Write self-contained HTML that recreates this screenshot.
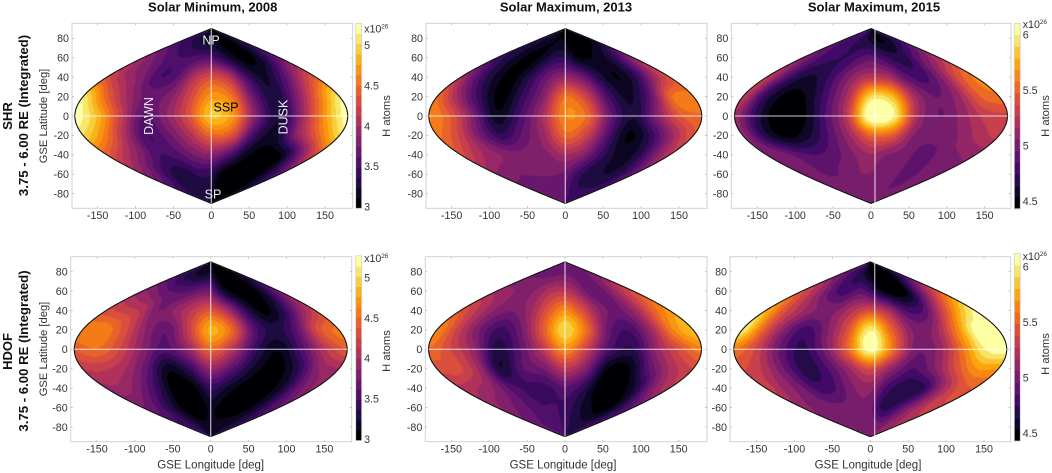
<!DOCTYPE html>
<html lang="en">
<head>
<meta charset="utf-8">
<title>Integrated H atoms maps</title>
<style>
html,body{margin:0;padding:0;background:#fff;width:1052px;height:473px;overflow:hidden}
svg{display:block}
text{font-family:"Liberation Sans",sans-serif;fill:#333}
</style>
</head>
<body>
<svg id="figure" xmlns="http://www.w3.org/2000/svg" width="1052" height="473" viewBox="0 0 1052 473"></svg>
<script>
const lonTicks = [-150, -100, -50, 0, 50, 100, 150];
const latTicks = [80, 60, 40, 20, 0, -20, -40, -60, -80];
const gridLons = [-180, -150, -120, -90, -60, -30, 0, 30, 60, 90, 120, 150, 180];
const gridLats = [80, 60, 40, 20, 0, -20, -40, -60, -80];
const colorTicksLow = [3, 3.5, 4, 4.5, 5];
const colorTicksHigh = [4.5, 5, 5.5, 6];
const colorTickTextLow = ['3', '3.5', '4', '4.5', '5'];
const colorTickTextHigh = ['4.5', '5', '5.5', '6'];

const valuesShr2008 = [
  [3.45,3.4,3.35,3.3,3.2,3.15,3.15,3.1,3.05,3.05,3.1,3.2,3.35],
  [3.9,3.75,3.6,3.5,3.5,3.55,3.55,3.35,3.15,3.05,3.15,3.45,3.7],
  [4.3,4.0,3.8,3.5,3.6,4.05,4.3,4.1,3.5,3.2,3.5,4.0,4.4],
  [5.1,4.5,4.0,3.7,3.8,4.25,4.7,4.5,3.65,3.25,3.8,4.5,5.1],
  [5.25,4.85,4.2,3.6,3.85,4.3,4.9,4.65,3.75,3.25,3.95,4.7,5.25],
  [5.0,4.6,4.0,3.5,3.7,4.05,4.45,4.3,3.45,3.2,3.85,4.45,5.0],
  [4.4,4.1,3.8,3.5,3.55,3.75,3.85,3.55,3.15,3.02,3.1,3.7,4.3],
  [3.85,3.7,3.45,3.3,3.3,3.4,3.35,3.05,3.0,3.0,3.05,3.3,3.6],
  [3.4,3.35,3.3,3.3,3.3,3.25,3.2,3.05,3.0,3.0,3.05,3.1,3.2]
];
const valuesShr2013 = [
  [3.3,3.25,3.2,3.15,3.1,3.1,3.08,3.02,3.0,3.0,3.02,3.05,3.15],
  [3.45,3.3,3.15,3.05,3.15,3.35,3.35,3.12,3.1,3.15,3.3,3.6,3.9],
  [4.0,3.55,3.2,3.05,3.35,3.7,3.9,3.7,3.3,3.1,3.35,3.9,4.35],
  [4.5,3.95,3.4,3.05,3.4,3.85,4.5,4.2,3.5,3.2,3.65,4.5,4.55],
  [4.65,4.35,3.75,3.15,3.5,4.0,4.62,4.45,3.65,3.25,3.8,4.35,4.5],
  [4.55,4.25,3.75,3.4,3.65,3.95,4.45,4.2,3.55,3.08,3.4,3.95,4.35],
  [4.3,4.05,3.9,3.8,3.8,3.85,4.0,3.85,3.45,3.2,3.25,3.7,4.1],
  [3.85,3.8,3.75,3.75,3.75,3.75,3.7,3.45,3.3,3.25,3.25,3.4,3.7],
  [3.65,3.65,3.65,3.65,3.65,3.65,3.6,3.45,3.4,3.4,3.4,3.4,3.45]
];
const valuesShr2015 = [
  [4.85,4.8,4.75,4.75,4.72,4.65,4.6,4.52,4.5,4.55,4.6,4.7,4.8],
  [5.05,4.9,4.8,4.75,4.75,4.85,4.9,4.8,4.7,4.7,4.9,5.05,5.25],
  [5.3,4.9,4.65,4.65,4.85,5.1,5.25,5.2,4.9,4.8,5.05,5.4,5.6],
  [5.3,4.75,4.5,4.55,4.85,5.25,5.9,5.8,5.2,4.95,5.1,5.45,5.55],
  [5.15,4.7,4.43,4.5,4.85,5.3,6.15,6.0,5.2,4.95,5.1,5.3,5.35],
  [5.1,4.7,4.5,4.6,4.85,5.15,5.5,5.45,5.05,5.0,5.05,5.2,5.3],
  [5.05,5.0,4.88,4.85,4.92,5.05,5.15,5.05,5.0,4.88,5.0,5.05,5.1],
  [5.0,5.0,4.95,4.95,5.0,5.05,5.05,5.0,5.0,4.88,4.95,5.0,5.0],
  [5.0,5.0,5.0,5.0,5.0,5.0,5.0,5.0,4.98,4.97,4.97,4.97,4.97]
];
const valuesHdof2008 = [
  [3.4,3.35,3.25,3.2,3.15,3.15,3.2,3.1,3.05,3.0,3.05,3.1,3.2],
  [3.9,3.8,3.65,3.6,3.6,3.7,3.7,3.25,3.05,3.02,3.1,3.4,3.75],
  [4.3,4.2,4.1,3.75,3.9,4.15,4.35,4.0,3.4,3.05,3.3,3.8,4.2],
  [4.6,4.6,4.3,3.85,3.65,4.2,4.8,4.45,3.6,3.3,3.6,4.3,4.55],
  [4.4,4.5,4.25,3.85,3.55,3.9,4.45,4.05,3.4,3.12,3.55,4.1,4.4],
  [4.15,4.15,4.0,3.65,3.15,3.4,3.9,3.6,3.2,3.02,3.3,3.85,4.0],
  [3.95,3.95,3.75,3.4,3.0,3.05,3.4,3.2,3.02,3.0,3.2,3.65,3.9],
  [3.75,3.65,3.45,3.2,3.0,3.0,3.15,3.05,3.0,3.05,3.2,3.45,3.65],
  [3.45,3.4,3.4,3.3,3.2,3.15,3.15,3.15,3.2,3.2,3.25,3.3,3.4]
];
const valuesHdof2013 = [
  [3.7,3.7,3.7,3.7,3.7,3.7,3.7,3.7,3.7,3.7,3.7,3.72,3.75],
  [3.95,3.9,3.85,3.85,3.95,4.1,4.1,3.95,3.7,3.65,3.85,4.1,4.3],
  [4.35,4.1,3.85,3.75,3.95,4.35,4.65,4.3,3.85,3.7,3.95,4.4,4.7],
  [4.65,4.2,3.75,3.45,3.75,4.4,5.0,4.5,3.7,3.5,3.95,4.6,4.9],
  [4.5,4.25,3.9,3.3,3.6,4.1,4.65,4.15,3.5,3.35,3.9,4.3,4.6],
  [4.3,4.3,3.95,3.25,3.6,3.75,4.1,3.8,3.1,3.1,3.65,4.05,4.25],
  [4.1,4.0,3.85,3.55,3.45,3.45,3.6,3.4,3.02,3.0,3.25,3.8,4.1],
  [3.9,3.8,3.7,3.6,3.5,3.5,3.45,3.3,3.15,3.05,3.1,3.4,3.65],
  [3.65,3.65,3.6,3.55,3.5,3.5,3.45,3.35,3.3,3.3,3.35,3.4,3.5]
];
const valuesHdof2015 = [
  [4.95,4.9,4.8,4.75,4.7,4.6,4.5,4.45,4.43,4.43,4.5,4.6,4.75],
  [5.4,5.25,5.05,4.85,4.8,4.9,4.8,4.55,4.45,4.5,4.85,5.2,5.45],
  [5.8,5.45,5.2,5.05,5.05,5.25,5.4,5.2,4.85,4.85,5.3,5.75,6.05],
  [6.0,5.5,5.05,4.8,5.05,5.45,6.0,5.5,5.05,5.1,5.6,6.1,6.1],
  [5.6,5.35,4.95,4.72,5.0,5.5,6.08,5.55,5.0,5.1,5.55,6.0,6.1],
  [5.4,5.25,4.95,4.68,4.85,5.15,5.4,5.1,4.85,5.05,5.4,5.7,5.7],
  [5.35,5.15,5.0,4.8,4.85,5.05,5.1,4.8,4.68,4.72,5.1,5.4,5.5],
  [5.1,5.05,5.0,5.0,5.0,5.05,5.0,4.72,4.75,4.95,5.15,5.3,5.35],
  [5.05,5.05,5.05,5.05,5.05,5.05,5.05,5.05,5.0,5.05,5.1,5.15,5.2]
];

const lonScale = 0.758, latScale = 0.971;
const inferno = ['#000004','#160b39','#420a68','#6a176e','#932667','#bc3754','#dd513a','#f37819','#fca50a','#f6d746','#fcffa4'];
const figure = document.getElementById('figure');
const NS = 'http://www.w3.org/2000/svg';

function make(tag, parent, attrs) {
  const el = document.createElementNS(NS, tag);
  for (const k in attrs) el.setAttribute(k, attrs[k]);
  parent.appendChild(el);
  return el;
}
function hexToRgb(h) {
  return [parseInt(h.slice(1,3),16), parseInt(h.slice(3,5),16), parseInt(h.slice(5,7),16)];
}
function paletteColor(t) {
  const p = Math.min(0.9999, Math.max(0, t)) * (inferno.length - 1);
  const i = Math.floor(p), f = p - i;
  const a = hexToRgb(inferno[i]), b = hexToRgb(inferno[i + 1]);
  return 'rgb(' + a.map((v, k) => Math.round(v + (b[k] - v) * f)).join(',') + ')';
}
function cubic(p0, p1, p2, p3, t) {
  return p1 + 0.5 * t * (p2 - p0 + t * (2 * p0 - 5 * p1 + 4 * p2 - p3 + t * (3 * (p1 - p2) + p3 - p0)));
}
function sampleGrid(values, lon, lat) {
  const nc = gridLons.length, nr = gridLats.length;
  const cf = Math.min(nc - 1, Math.max(0, (lon - gridLons[0]) / (gridLons[1] - gridLons[0])));
  const rf = Math.min(nr - 1, Math.max(0, (lat - gridLats[0]) / (gridLats[1] - gridLats[0])));
  const c = Math.min(nc - 2, Math.floor(cf)), r = Math.min(nr - 2, Math.floor(rf));
  const tc = cf - c, tr = rf - r;
  const rowVals = [];
  for (let j = -1; j <= 2; j++) {
    const row = values[Math.min(nr - 1, Math.max(0, r + j))];
    rowVals.push(cubic(row[Math.max(0, c - 1)], row[c], row[c + 1], row[Math.min(nc - 1, c + 2)], tc));
  }
  return cubic(rowVals[0], rowVals[1], rowVals[2], rowVals[3], tr);
}
function outlinePath(cx, cy) {
  let d = '';
  for (let lat = 90; lat >= -90; lat -= 2) {
    const x = cx - 180 * lonScale * Math.cos(lat * Math.PI / 180);
    d += (d ? 'L' : 'M') + x.toFixed(2) + ' ' + (cy - lat * latScale).toFixed(2);
  }
  for (let lat = -90; lat <= 90; lat += 2) {
    const x = cx + 180 * lonScale * Math.cos(lat * Math.PI / 180);
    d += 'L' + x.toFixed(2) + ' ' + (cy - lat * latScale).toFixed(2);
  }
  return d + 'Z';
}
function drawPanel(cfg, idx) {
  const g = make('g', figure, {});
  
  

  const frame = make('rect', g, {x: cfg.x0, y: cfg.y0, width: cfg.x1 - cfg.x0, height: cfg.y1 - cfg.y0, fill: '#fff', stroke: '#d2d2d2', 'stroke-width': 1});
  
  

  const clipId = 'clip' + idx;
  const defs = make('defs', g, {});
  const clip = make('clipPath', defs, {id: clipId});
  make('path', clip, {d: outlinePath(cfg.cx, cfg.cy)});

  const n = cfg.levels, step = (cfg.vMax - cfg.vMin) / n;
  const paths = new Array(n).fill('');
  const xMin = Math.floor(cfg.cx - 180 * lonScale) - 1, xMax = Math.ceil(cfg.cx + 180 * lonScale) + 1;
  const yMin = Math.floor(cfg.cy - 90 * latScale) - 1, yMax = Math.ceil(cfg.cy + 90 * latScale) + 1;
  for (let y = yMin; y < yMax; y++) {
    const lat = (cfg.cy - (y + 0.5)) / latScale;
    const cosL = Math.max(0.02, Math.cos(Math.min(90, Math.abs(lat)) * Math.PI / 180));
    let runStart = null, runLevel = -1;
    for (let x = xMin; x <= xMax; x++) {
      const lon = (x + 0.5 - cfg.cx) / (lonScale * cosL);
      let lv = -1;
      if (x < xMax && Math.abs(lon) <= 186) {
        const v = sampleGrid(cfg.values, lon, lat);
        lv = Math.max(0, Math.min(n - 1, Math.floor((v - cfg.vMin) / step)));
      }
      if (lv !== runLevel) {
        if (runLevel >= 0) paths[runLevel] += 'M' + runStart + ' ' + y + 'H' + x + 'V' + (y + 1) + 'H' + runStart + 'Z';
        runStart = x;
        runLevel = lv;
      }
    }
  }
  const clipped = make('g', g, {'clip-path': 'url(#' + clipId + ')'});
  
  
  const blurred = make('g', clipped, {style: 'filter:blur(0.4px)'});
  paths.forEach((d, i) => {
    if (!d) return;
    const band = make('path', blurred, {d: d, fill: paletteColor(i / (n - 1)), 'shape-rendering': 'crispEdges'});
    
    
  });

  const outline = make('path', g, {d: outlinePath(cfg.cx, cfg.cy), fill: 'none', stroke: '#111', 'stroke-width': 1.1});
  
  

  const eq = make('line', g, {x1: cfg.cx - 180 * lonScale, x2: cfg.cx + 180 * lonScale, y1: cfg.cy, y2: cfg.cy, stroke: '#fff', 'stroke-opacity': 0.8, 'stroke-width': 1});
  
  
  const mer = make('line', g, {x1: cfg.lineX, x2: cfg.lineX, y1: cfg.cy - 90 * latScale, y2: cfg.cy + 90 * latScale, stroke: '#fff', 'stroke-opacity': 0.72, 'stroke-width': 1.2});
  
  

  lonTicks.forEach(t => {
    const x = cfg.cx + t * lonScale;
    const tk = make('path', g, {d: 'M' + x + ' ' + cfg.y1 + 'v-2M' + x + ' ' + cfg.y0 + 'v2', stroke: '#bbb', 'stroke-width': 0.8, fill: 'none'});
    
    
    const lb = make('text', g, {x: x, y: cfg.y1 + 10.8, 'text-anchor': 'middle', 'font-size': 10.7});
    
    
    lb.textContent = String(t);
  });
  latTicks.forEach(t => {
    const y = cfg.cy - t * latScale;
    const tk = make('path', g, {d: 'M' + cfg.x0 + ' ' + y + 'h2M' + cfg.x1 + ' ' + y + 'h-2', stroke: '#bbb', 'stroke-width': 0.8, fill: 'none'});
    
    
    const lb = make('text', g, {x: cfg.x0 - 3, y: y + 3.8, 'text-anchor': 'end', 'font-size': 10.7});
    
    
    lb.textContent = String(t);
  });
}
function drawColorbar(cb) {
  const g = make('g', figure, {});
  
  
  const yOf = v => cb.refY - (v - cb.refV) * cb.pxPerUnit;
  const step = (cb.vMax - cb.vMin) / cb.levels;
  for (let i = 0; i < cb.levels; i++) {
    const yTop = yOf(cb.vMin + (i + 1) * step), yBot = yOf(cb.vMin + i * step);
    const r = make('rect', g, {x: cb.x, y: yTop, width: 6, height: yBot - yTop + 0.3, fill: paletteColor(i / (cb.levels - 1))});
    
    
  }
  const fr = make('rect', g, {x: cb.x, y: yOf(cb.vMax), width: 6, height: yOf(cb.vMin) - yOf(cb.vMax), fill: 'none', stroke: '#d2d2d2', 'stroke-width': 0.8});
  
  
  cb.ticks.forEach((t, i) => {
    const lb = make('text', g, {x: cb.x + 8.4, y: yOf(t) + 3.8, 'font-size': 10.7});
    
    
    lb.textContent = cb.tickText[i];
  });
  const ex = make('text', g, {x: cb.x + 8.4, y: cb.expY, 'font-size': 10.7});
  
  
  ex.textContent = 'x10';
  const sup = make('text', g, {x: cb.x + 25.5, y: cb.expY - 4, 'font-size': 6.5, fill: '#666'});
  
  
  sup.textContent = '26';
  const tx = cb.x + 34.5, ty = cb.titleY;
  const title = make('text', g, {x: tx, y: ty, 'font-size': 11.2, 'text-anchor': 'middle', transform: 'rotate(-90 ' + tx + ' ' + ty + ')'});
  
  
  title.textContent = 'H atoms';
}
function drawLabel(str, name, x, y, size, opts) {
  const o = opts || {};
  const attrs = {x: x, y: y, 'font-size': size, 'text-anchor': 'middle'};
  if (o.bold) attrs['font-weight'] = 'bold';
  if (o.rot) attrs.transform = 'rotate(-90 ' + x + ' ' + y + ')';
  attrs.style = 'fill:' + (o.fill || '#333');
  const t = make('text', figure, attrs);
  
  
  t.textContent = str;
}

const panels = [
  {name:'shr-2008', values:valuesShr2008, x0:72, x1:352.7, y0:23.3, y1:208.3, cx:211.3, cy:116, lineX:211.3, vMin:2.98, vMax:5.27, levels:18},
  {name:'shr-2013', values:valuesShr2013, x0:426, x1:707, y0:23.3, y1:208.3, cx:565.3, cy:116, lineX:565.3, vMin:2.98, vMax:5.27, levels:18},
  {name:'shr-2015', values:valuesShr2015, x0:731.3, x1:1011, y0:23.3, y1:208.3, cx:871, cy:116, lineX:875, vMin:4.43, vMax:6.1, levels:16},
  {name:'hdof-2008', values:valuesHdof2008, x0:70.7, x1:351.7, y0:256.7, y1:441.7, cx:210.7, cy:349.3, lineX:210.7, vMin:2.98, vMax:5.27, levels:18},
  {name:'hdof-2013', values:valuesHdof2013, x0:425.3, x1:707, y0:256.7, y1:441.7, cx:565, cy:349.3, lineX:565, vMin:2.98, vMax:5.27, levels:18},
  {name:'hdof-2015', values:valuesHdof2015, x0:730, x1:1010.7, y0:256.7, y1:441.7, cx:870.3, cy:349.3, lineX:874.7, vMin:4.43, vMax:6.12, levels:16}
];
panels.forEach(drawPanel);

drawColorbar({name:'shr-low', x:355.7, refV:3, refY:206.7, pxPerUnit:80.7, vMin:2.98, vMax:5.27, levels:18, ticks:colorTicksLow, tickText:colorTickTextLow, expY:32.5, titleY:116});
drawColorbar({name:'shr-high', x:1014.3, refV:4.5, refY:201, pxPerUnit:111, vMin:4.43, vMax:6.1, levels:16, ticks:colorTicksHigh, tickText:colorTickTextHigh, expY:28, titleY:116});
drawColorbar({name:'hdof-low', x:355.7, refV:3, refY:439, pxPerUnit:80.7, vMin:2.98, vMax:5.27, levels:18, ticks:colorTicksLow, tickText:colorTickTextLow, expY:262, titleY:351});
drawColorbar({name:'hdof-high', x:1014.3, refV:4.5, refY:433.3, pxPerUnit:111, vMin:4.43, vMax:6.12, levels:16, ticks:colorTicksHigh, tickText:colorTickTextHigh, expY:260, titleY:354});

drawLabel('Solar Minimum, 2008', 'column-title-2008', 212.7, 11.5, 13, {bold:true, fill:'#111'});
drawLabel('Solar Maximum, 2013', 'column-title-2013', 566, 11.5, 13, {bold:true, fill:'#111'});
drawLabel('Solar Maximum, 2015', 'column-title-2015', 874, 11.5, 13, {bold:true, fill:'#111'});

drawLabel('SHR', 'row-title-shr', 12, 116, 13.2, {bold:true, rot:true, fill:'#111'});
drawLabel('3.75 - 6.00 RE (Integrated)', 'row-subtitle-shr', 28, 115.5, 13.2, {bold:true, rot:true, fill:'#111'});
drawLabel('HDOF', 'row-title-hdof', 12, 351.5, 13, {bold:true, rot:true, fill:'#111'});
drawLabel('3.75 - 6.00 RE (Integrated)', 'row-subtitle-hdof', 28, 351, 13.2, {bold:true, rot:true, fill:'#111'});

drawLabel('GSE Latitude [deg]', 'y-axis-title-top', 47, 116, 11.2, {rot:true});
drawLabel('GSE Latitude [deg]', 'y-axis-title-bottom', 47, 349, 11.2, {rot:true});
drawLabel('GSE Longitude [deg]', 'x-axis-title-left', 210.7, 468.7, 11.5);
drawLabel('GSE Longitude [deg]', 'x-axis-title-middle', 563, 468.7, 11.5);
drawLabel('GSE Longitude [deg]', 'x-axis-title-right', 868, 468.7, 11.5);

drawLabel('NP', 'annotation-north-pole', 211, 44.5, 12.5, {fill:'#eee'});
drawLabel('SSP', 'annotation-subsolar-point', 226, 111.5, 12.5, {fill:'#000'});
drawLabel('SP', 'annotation-south-pole', 213, 198.5, 12.5, {fill:'#eee'});
drawLabel('DAWN', 'annotation-dawn', 153, 116, 12.5, {rot:true, fill:'#eee'});
drawLabel('DUSK', 'annotation-dusk', 287.5, 117, 12.5, {rot:true, fill:'#eee'});
</script>
</body>
</html>
